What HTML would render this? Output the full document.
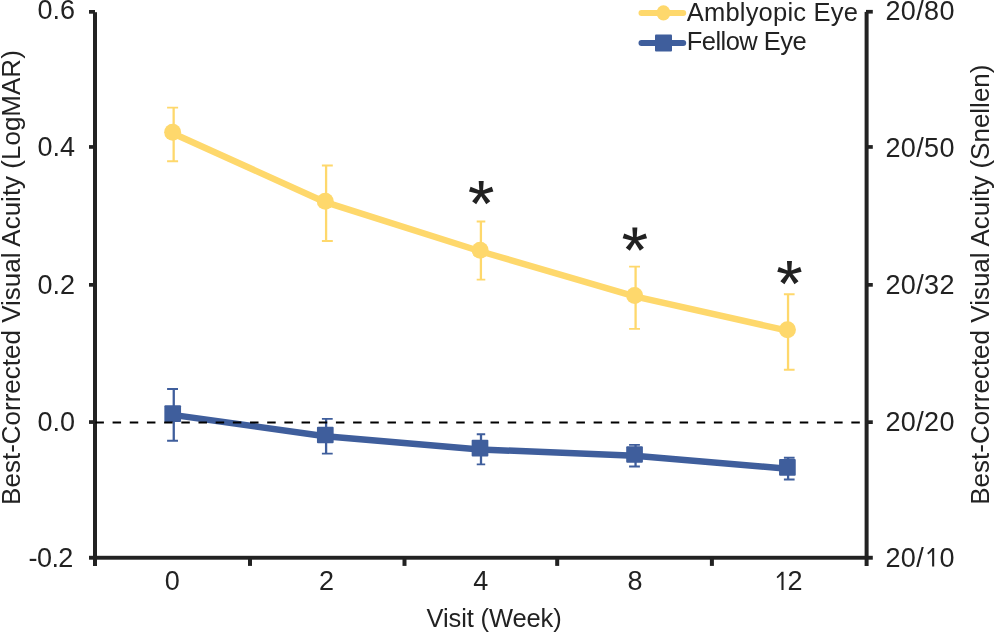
<!DOCTYPE html>
<html>
<head>
<meta charset="utf-8">
<style>
html,body{margin:0;padding:0;background:#fff;}
body{width:995px;height:633px;overflow:hidden;}
svg{display:block;will-change:transform;}
text{font-family:"Liberation Sans",sans-serif;fill:#222222;}
</style>
</head>
<body>
<svg width="995" height="633" viewBox="0 0 995 633">
<rect x="0" y="0" width="995" height="633" fill="#fff"/>

<!-- error bars yellow -->
<g stroke="#fed86c" stroke-width="2.3" fill="none">
  <path d="M173.65 107.6V161.25"/>
  <path d="M167.1 107.6H178.1M167.1 161.25H178.1" stroke-width="1.9"/>
  <path d="M326.1 165.5V241"/>
  <path d="M321.9 165.5H332.8M321.9 241H332.8" stroke-width="1.9"/>
  <path d="M480.9 221.5V279.6"/>
  <path d="M476.7 221.5H485.3M476.7 279.6H485.3" stroke-width="1.9"/>
  <path d="M635.6 266.6V328.9"/>
  <path d="M629.1 266.6H640M629.1 328.9H640" stroke-width="1.9"/>
  <path d="M788.05 294.2V369.8"/>
  <path d="M783.9 294.2H794.6M783.9 369.8H794.6" stroke-width="1.9"/>
</g>
<!-- error bars blue -->
<g stroke="#3f5e9c" stroke-width="2.3" fill="none">
  <path d="M173.75 389.05V440.8"/>
  <path d="M167.1 389.05H178M167.1 440.8H178" stroke-width="1.9"/>
  <path d="M326.1 418.9V453.65"/>
  <path d="M321.9 418.9H332.7M321.9 453.65H332.7" stroke-width="1.9"/>
  <path d="M481 434.2V464.35"/>
  <path d="M476.75 434.2H485.2M476.75 464.35H485.2" stroke-width="1.9"/>
  <path d="M635.55 444.9V466.5"/>
  <path d="M629.1 444.9H639.9M629.1 466.5H639.9" stroke-width="1.9"/>
  <path d="M788.1 457.75V479.45"/>
  <path d="M783.9 457.75H794.6M783.9 479.45H794.6" stroke-width="1.9"/>
</g>

<!-- series lines -->
<polyline points="172.65,133.20 325.25,202.20 480.15,251.25 634.65,296.35 787.45,330.70" fill="none" stroke="#fed86c" stroke-width="6.5" stroke-linejoin="round"/>
<polyline points="172.7,414.90 325.3,436.30 480.0,449.40 634.55,455.80 787.4,468.65" fill="none" stroke="#3f5e9c" stroke-width="6.5" stroke-linejoin="round"/>

<!-- markers -->
<g fill="#fed86c">
  <circle cx="172.65" cy="132.3" r="8.5"/>
  <circle cx="325.25" cy="201.3" r="8.5"/>
  <circle cx="480.15" cy="250.35" r="8.5"/>
  <circle cx="634.65" cy="295.45" r="8.5"/>
  <circle cx="787.45" cy="329.8" r="8.5"/>
</g>
<g fill="#3f5e9c">
  <rect x="164.35" y="405.25" width="16.7" height="16.7" rx="1"/>
  <rect x="316.95" y="426.65" width="16.7" height="16.7" rx="1"/>
  <rect x="471.65" y="439.75" width="16.7" height="16.7" rx="1"/>
  <rect x="626.20" y="446.15" width="16.7" height="16.7" rx="1"/>
  <rect x="779.05" y="459.00" width="16.7" height="16.7" rx="1"/>
</g>

<!-- axes -->
<g fill="#222222">
  <!-- left axis -->
  <rect x="93" y="12.2" width="4" height="553.8"/>
  <rect x="89" y="10" width="6" height="3.7"/>
  <rect x="89" y="145.1" width="6" height="3.7"/>
  <rect x="89" y="283" width="6" height="3.7"/>
  <rect x="89" y="420.2" width="6" height="3.7"/>
  <!-- right axis -->
  <rect x="864.6" y="11.9" width="4" height="554.1"/>
  <rect x="866" y="9.9" width="6.8" height="3.7"/>
  <rect x="866" y="145.1" width="6.8" height="3.7"/>
  <rect x="866" y="283" width="6.8" height="3.7"/>
  <rect x="866" y="420.3" width="6.8" height="3.7"/>
  <!-- x axis -->
  <rect x="89" y="555.8" width="783.8" height="3.9"/>
  <rect x="248" y="557" width="4" height="8.9"/>
  <rect x="402.5" y="557" width="4" height="8.9"/>
  <rect x="555.2" y="557" width="4" height="8.9"/>
  <rect x="709.9" y="557" width="4" height="8.9"/>
</g>

<!-- zero dashed line -->
<line x1="95.4" y1="422.4" x2="866" y2="422.4" stroke="#000" stroke-width="2" stroke-dasharray="8.5 8.68"/>

<!-- asterisks -->
<g fill="#222222">
<path d="M482.90 192.95L483.70 180.95L478.70 180.95L479.50 192.95ZM481.73 194.57L493.39 191.62L491.84 186.86L480.67 191.33ZM479.82 193.95L486.23 204.13L490.28 201.19L482.58 191.95ZM479.82 191.95L472.12 201.19L476.17 204.13L482.58 193.95ZM481.73 191.33L470.56 186.86L469.01 191.62L480.67 194.57Z"/>
<path d="M636.55 239.60L637.35 227.60L632.35 227.60L633.15 239.60ZM635.38 241.22L647.04 238.27L645.49 233.51L634.32 237.98ZM633.47 240.60L639.88 250.78L643.93 247.84L636.23 238.60ZM633.47 238.60L625.77 247.84L629.82 250.78L636.23 240.60ZM635.38 237.98L624.21 233.51L622.66 238.27L634.32 241.22Z"/>
<path d="M791.15 273.00L791.95 261.00L786.95 261.00L787.75 273.00ZM789.98 274.62L801.64 271.67L800.09 266.91L788.92 271.38ZM788.07 274.00L794.48 284.18L798.53 281.24L790.83 272.00ZM788.07 272.00L780.37 281.24L784.42 284.18L790.83 274.00ZM789.98 271.38L778.81 266.91L777.26 271.67L788.92 274.62Z"/>
</g>

<!-- left tick labels -->
<g font-size="27" text-anchor="end">
  <text x="75" y="18.5">0.6</text>
  <text x="75" y="156">0.4</text>
  <text x="75" y="293.5">0.2</text>
  <text x="75" y="431.3">0.0</text>
  <text x="28.5" y="566.5" text-anchor="start" textLength="44.9" lengthAdjust="spacing">-0.2</text>
</g>
<!-- right tick labels -->
<g font-size="27" text-anchor="start" letter-spacing="0.35">
  <text x="885.5" y="20.4">20/80</text>
  <text x="885.5" y="156.8">20/50</text>
  <text x="885.5" y="293.5">20/32</text>
  <text x="885.5" y="431.3">20/20</text>
  <text x="885.5" y="566.5">20/</text><text x="939.5" y="566.5">0</text>
  <path fill="#222222" stroke="none" d="M934.20 548.00L934.20 566.50L932.10 566.50L932.10 551.00Q930.55 553.00 928.30 554.40L927.20 553.10Q929.85 550.90 932.25 548.00Z"/>
</g>
<!-- x tick labels -->
<g font-size="27" text-anchor="middle">
  <text x="172.15" y="590.3">0</text>
  <text x="326.45" y="590.3">2</text>
  <text x="480.75" y="590.3">4</text>
  <text x="635.05" y="590.3">8</text>
  <text x="787.5" y="590.3" text-anchor="start">2</text>
  <path fill="#222222" d="M783.55 571.80L783.55 590.00L781.45 590.00L781.45 574.80Q779.90 576.80 777.65 578.20L776.55 576.90Q779.20 574.70 781.60 571.80Z"/>
</g>
<!-- axis titles -->
<text x="494.1" y="627.3" font-size="25.5" text-anchor="middle" textLength="135.1" lengthAdjust="spacing">Visit (Week)</text>
<text transform="translate(19.8 504.9) rotate(-90)" font-size="26" text-anchor="start">Best-Corrected Visual Acuity (LogMAR)</text>
<text transform="translate(989 504.8) rotate(-90)" font-size="26" text-anchor="start">Best-Corrected Visual Acuity (Snellen)</text>

<!-- legend -->
<line x1="641.5" y1="12.9" x2="683.2" y2="12.9" stroke="#fed86c" stroke-width="6" stroke-linecap="round"/>
<ellipse cx="663.45" cy="12.95" rx="6.9" ry="7.6" fill="#fed86c"/>
<line x1="641.5" y1="43" x2="683.2" y2="43" stroke="#3f5e9c" stroke-width="6" stroke-linecap="round"/>
<rect x="655" y="34.6" width="17" height="17" rx="1" fill="#3f5e9c"/>
<text x="686.7" y="20.7" font-size="25.5" textLength="171.2" lengthAdjust="spacing">Amblyopic Eye</text>
<text x="686.7" y="50.4" font-size="25.5" textLength="119.9" lengthAdjust="spacing">Fellow Eye</text>
</svg>
</body>
</html>
